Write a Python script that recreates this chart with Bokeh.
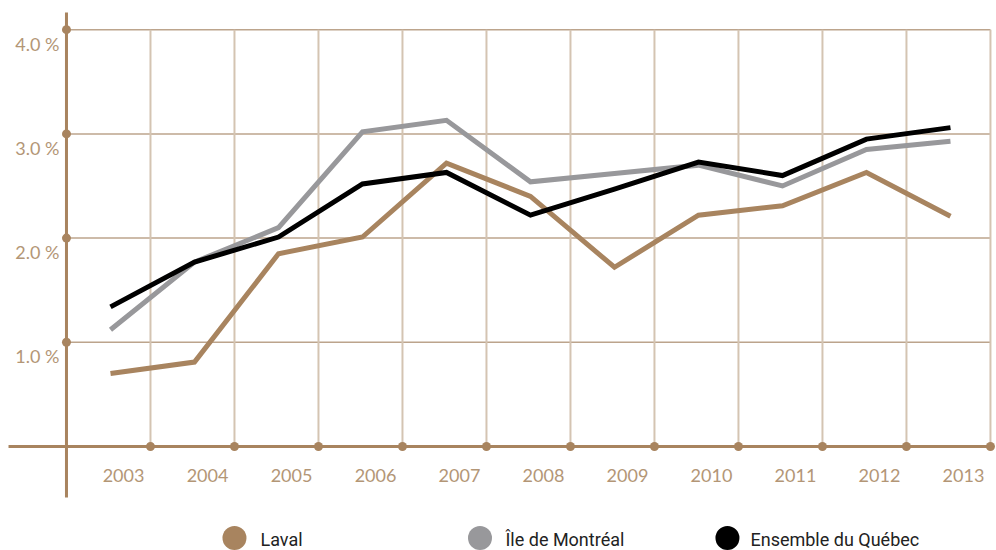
from bokeh.plotting import figure
from bokeh.models import Range1d
from bokeh.core.properties import value
from bokeh.embed import file_html
from bokeh.resources import INLINE

# ---- data ----
years = [2003, 2004, 2005, 2006, 2007, 2008, 2009, 2010, 2011, 2012, 2013]
laval = [0.70, 0.81, 1.85, 2.01, 2.72, 2.40, 1.72, 2.22, 2.31, 2.63, 2.21]
montreal = [1.12, 1.77, 2.10, 3.02, 3.13, 2.54, 2.62, 2.70, 2.50, 2.85, 2.93]
quebec = [1.34, 1.77, 2.01, 2.52, 2.63, 2.22, 2.47, 2.73, 2.60, 2.95, 3.06]
y_ticks = [1, 2, 3, 4]
y_tick_labels = ["1.0 %", "2.0 %", "3.0 %", "4.0 %"]
x_tick_labels = [str(y) for y in years]
series_names = ["Laval", "Île de Montréal", "Ensemble du Québec"]

# ---- style ----
TAN = "#a8845f"
TAN_TEXT = "#b39676"
HGRID = "#bca48c"
VGRID = "#d4c4b2"
GREY = "#98989b"
BLACK = "#000000"
series_colors = [TAN, GREY, BLACK]

W, H = 996, 550
x0 = years[0]
p = figure(width=W, height=H, output_backend="svg", toolbar_location=None,
           x_range=Range1d(x0 - 1.3095, x0 + 10.548),
           y_range=Range1d(-0.998, 4.280),
           min_border=0, outline_line_color=None)
p.axis.visible = False
p.grid.visible = False
p.background_fill_color = "white"
p.border_fill_color = "white"

yaxis_x = x0 - 0.524
xaxis_start = x0 - 1.214
grid_x = [y + 0.476 for y in years]
grid_right = grid_x[-1]

# horizontal gridlines
p.segment(x0=[yaxis_x] * len(y_ticks), y0=y_ticks, x1=[grid_right] * len(y_ticks), y1=y_ticks,
          line_color=HGRID, line_width=1.5)
# vertical gridlines
p.segment(x0=grid_x, y0=[0] * len(grid_x), x1=grid_x, y1=[max(y_ticks)] * len(grid_x),
          line_color=VGRID, line_width=2)

# axes
p.segment(x0=[xaxis_start], y0=[0], x1=[grid_right], y1=[0], line_color=TAN, line_width=3)
p.segment(x0=[yaxis_x], y0=[-0.489], x1=[yaxis_x], y1=[4.165], line_color=TAN, line_width=3)

# series
for vals, col in zip([laval, montreal, quebec], series_colors):
    p.line(years, vals, line_color=col, line_width=5, line_join="miter")

# axis dots
p.scatter(x=grid_x, y=[0] * len(grid_x), size=9, fill_color=TAN, line_color=None)
p.scatter(x=[yaxis_x] * len(y_ticks), y=y_ticks, size=9, fill_color=TAN, line_color=None)

# tick labels
p.text(x=[x0 - 0.607] * len(y_ticks), y=[t - 0.134 for t in y_ticks], text=y_tick_labels,
       text_align="right", text_baseline="middle", text_color=TAN_TEXT,
       text_font=value("Lato"), text_font_size="18px")
p.text(x=[y + 0.155 for y in years], y=[-0.283] * len(years), text=x_tick_labels,
       text_align="center", text_baseline="middle", text_color=TAN_TEXT,
       text_font=value("Lato"), text_font_size="18px")

# legend
leg_circle_x = [x0 + 1.476, x0 + 4.399, x0 + 7.345]
leg_text_x = [x0 + 1.786, x0 + 4.702, x0 + 7.619]
leg_y = -0.878
p.scatter(x=leg_circle_x, y=[leg_y] * 3, size=24, fill_color=series_colors, line_color=None)
p.text(x=leg_text_x, y=[leg_y - 0.01] * 3, text=series_names, text_align="left",
       text_baseline="middle", text_color="#222222", text_font=value("Roboto"),
       text_font_size="18px")

open("out.html", "w").write(file_html(p, INLINE))
